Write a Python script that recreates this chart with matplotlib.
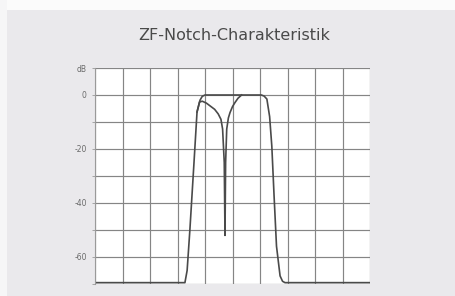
import matplotlib
matplotlib.use("Agg")
import matplotlib.pyplot as plt
from matplotlib.patches import Rectangle

# Data (x in grid divisions 0..10, y in dB)
wide_x = [0, 3.27, 3.35, 3.45, 3.6, 3.71, 3.82, 3.9, 4.0, 6.05, 6.15, 6.25,
          6.35, 6.43, 6.51, 6.6, 6.73, 6.82, 6.91, 10]
wide_y = [-69.5, -69.5, -65, -50, -25, -6.3, -1.9, -0.5, 0, 0, -0.4, -1.5,
          -8, -19, -37, -56, -67, -69, -69.5, -69.5]

notch_x = [3.71, 3.8, 3.9, 4.05, 4.18, 4.35, 4.48, 4.58, 4.64, 4.70, 4.727,
           4.75, 4.79, 4.85, 4.91, 5.0, 5.09, 5.2, 5.33]
notch_y = [-6.3, -2.6, -2.3, -3.0, -4.0, -5.3, -7.0, -9.0, -12.6, -25, -52,
           -25, -12.6, -8.5, -6.5, -4.3, -2.8, -1.2, 0]

ytick_vals = [10, 0, -20, -40, -60]
ytick_labels = ["dB", "0", "-20", "-40", "-60"]
title = "ZF-Notch-Charakteristik"

fig = plt.figure(figsize=(4.55, 2.96), dpi=100)
fig.patch.set_facecolor("#eae9ec")
fig.patches.append(Rectangle((0, 0.965), 1, 0.035, transform=fig.transFigure,
                             facecolor="#fbfbfb", edgecolor="none", zorder=0))
fig.patches.append(Rectangle((0, 0), 0.016, 1, transform=fig.transFigure,
                             facecolor="#f6f6f7", edgecolor="none", zorder=0))

ax = fig.add_axes([95/455, 1-284/296, 275/455, 216/296])
ax.set_facecolor("white")
ax.set_xlim(0, 10)
ax.set_ylim(-70, 10)

ax.set_xticks(range(0, 11))
ax.grid(True, color="#858585", linewidth=0.85)
ax.tick_params(axis="x", length=0, labelbottom=False)
ax.set_yticks(range(-70, 11, 10))
ax.set_yticklabels([ytick_labels[ytick_vals.index(v)] if v in ytick_vals else ""
                    for v in range(-70, 11, 10)])
ax.tick_params(axis="y", length=2, width=0.6, color="#999999",
               labelsize=5.5, labelcolor="#6a6a6a", pad=4)
for s in ax.spines.values():
    s.set_visible(False)
ax.spines["left"].set_visible(True)
ax.spines["left"].set_color("#9a9a9a")
ax.spines["left"].set_linewidth(0.8)

ax.plot(wide_x, wide_y, color="#4a4a4a", linewidth=1.2, solid_joinstyle="round")
ax.plot(notch_x, notch_y, color="#4a4a4a", linewidth=1.2, solid_joinstyle="round")

fig.text(234/455, 1-35/296, title, ha="center", va="center",
         fontsize=11.5, color="#4a4a4a")

fig.savefig("out.png", dpi=100, facecolor=fig.get_facecolor())
